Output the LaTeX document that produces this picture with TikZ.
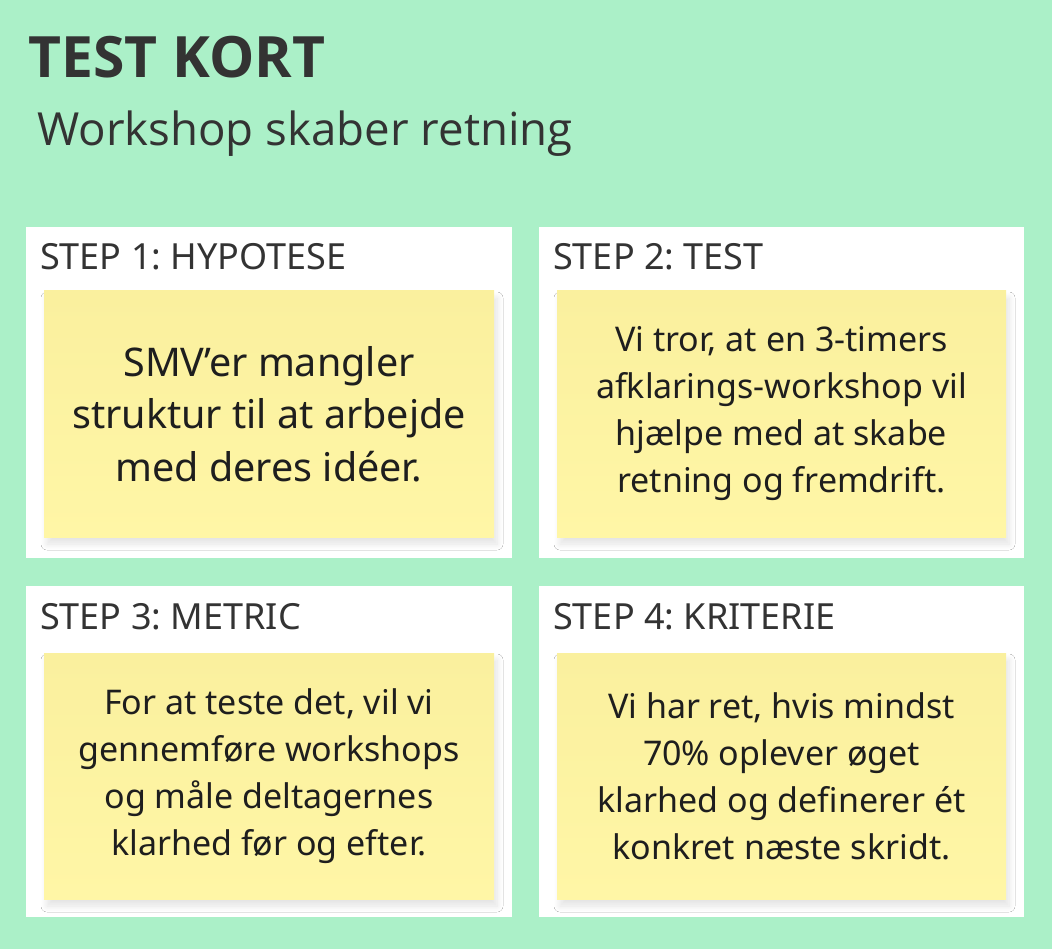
\documentclass[tikz,border=0pt]{standalone}
\usepackage{fontspec}
\setmainfont{Noto Sans}
\newfontfamily\titlefont{Open Sans}
\usetikzlibrary{shadows.blur}
\frenchspacing
\definecolor{bggreen}{RGB}{171,240,200}
\definecolor{darktxt}{RGB}{51,51,51}
\definecolor{notetxt}{RGB}{30,30,30}
\definecolor{notetop}{RGB}{250,240,158}
\definecolor{notebot}{RGB}{255,246,166}
\tikzset{
  panel/.style={fill=white, draw=none},
  note/.style={draw=none, top color=notetop, bottom color=notebot,
    blur shadow={shadow xshift=3pt, shadow yshift=-7pt, shadow blur steps=10, shadow opacity=11, shadow blur radius=6pt}},
  steplabel/.style={anchor=base west, inner sep=0pt, text=darktxt, font=\fontsize{36}{42}\selectfont},
  notetext/.style={align=center, text=notetxt, inner sep=0pt},
}
\begin{document}
\begin{tikzpicture}[x=1pt,y=-1pt]
\fill[bggreen] (0,0) rectangle (1052,949);
\useasboundingbox (0,0) rectangle (1052,949);
\node[anchor=base west, inner sep=0pt, text=darktxt, font=\titlefont\bfseries\fontsize{57}{64}\selectfont] (title) at (28,78) {TEST KORT};
\node[anchor=base west, inner sep=0pt, text=darktxt, font=\titlefont\fontsize{45.6}{52}\selectfont] (subtitle) at (37,146) {Workshop skaber retning};
% panels
\fill[panel] (26,227) rectangle (512,558);
\fill[panel] (539,227) rectangle (1024,558);
\fill[panel] (26,586) rectangle (512,917);
\fill[panel] (539,586) rectangle (1024,917);
\node[steplabel] (h1) at (40,270) {STEP 1: HYPOTESE};
\node[steplabel] (h2) at (553,270) {STEP 2: TEST};
\node[steplabel] (h3) at (40,629) {STEP 3: METRIC};
\node[steplabel] (h4) at (553,629) {STEP 4: KRITERIE};
% notes
\path[note] (44,291) rectangle (494,537);
\path[note] (557,291) rectangle (1006,537);
\path[note] (44,653) rectangle (494,899);
\path[note] (557,653) rectangle (1006,899);
\node[notetext, font=\fontsize{39.5}{52.5}\selectfont] (t1) at (269,414) {SMV’er mangler\\struktur til at arbejde\\med deres idéer.};
\node[notetext, font=\fontsize{34}{47}\selectfont] (t2) at (781.5,414) {Vi tror, at en 3-timers\\afklarings-workshop vil\\hjælpe med at skabe\\retning og fremdrift.};
\node[notetext, font=\fontsize{34}{47}\selectfont] (t3) at (269,776) {For at teste det, vil vi\\gennemføre workshops\\og måle deltagernes\\klarhed før og efter.};
\node[notetext, font=\fontsize{34}{47}\selectfont] (t4) at (781.5,776) {Vi har ret, hvis mindst\\70\% oplever øget\\klarhed og definerer ét\\konkret næste skridt.};
\end{tikzpicture}
\end{document}
